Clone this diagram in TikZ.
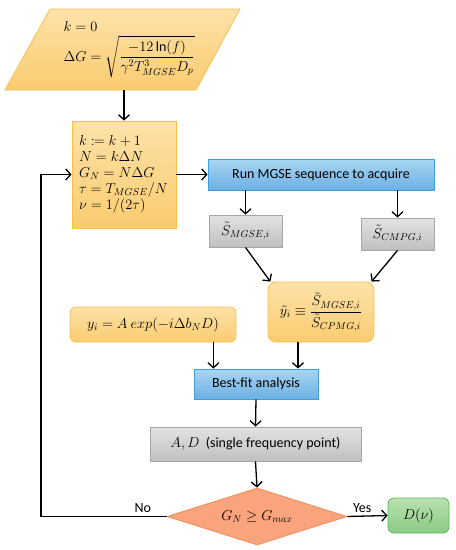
\documentclass[tikz,border=0pt]{standalone}
\usepackage{amsmath}
\usepackage{amssymb}
\usepackage{mathtools}
\usepackage{fontspec}
\setmainfont{Carlito}
\usetikzlibrary{shapes.geometric,arrows.meta}

\definecolor{ylwtop}{HTML}{FEE2A8}
\definecolor{ylwbot}{HTML}{F9CC70}
\definecolor{ylwline}{HTML}{F7C04E}
\definecolor{blutop}{HTML}{A9D5F3}
\definecolor{blubot}{HTML}{6CB0E2}
\definecolor{bluline}{HTML}{3E9FDC}
\definecolor{grytop}{HTML}{E2E2E2}
\definecolor{grybot}{HTML}{C0C0C0}
\definecolor{gryline}{HTML}{A6A6A6}
\definecolor{salfill}{HTML}{F9A47C}
\definecolor{salline}{HTML}{F48C5C}
\definecolor{grntop}{HTML}{B8E2B0}
\definecolor{grnbot}{HTML}{8ACB82}
\definecolor{grnline}{HTML}{5DB75A}

\tikzset{
  ybox/.style={draw=ylwline, line width=0.8pt, top color=ylwtop, bottom color=ylwbot},
  bbox/.style={draw=bluline, line width=0.8pt, top color=blutop, bottom color=blubot},
  gbox/.style={draw=gryline, line width=0.8pt, top color=grytop, bottom color=grybot},
  arr/.style={->, line width=1.3pt},
}

\begin{document}
\begin{tikzpicture}[x=1pt, y=-1pt, >={Straight Barb[length=5pt,width=11pt]},
    every node/.style={font=\fontsize{14}{16}\selectfont}]
  \useasboundingbox (0,0) rectangle (456,550);
  % start block
  \draw[ybox] (50,9) -- (240,9) -- (196,90) -- (5,90) -- cycle;
  \node[anchor=west, align=left] (init) at (60,50)
    {$k=0$\\[3pt] $\Delta G=\sqrt{\dfrac{-12\ln(f)}{\gamma^2T^3_{MGSE}D_p}}$};
  \coordinate (init-s) at (124,90);
  % update block
  \node[ybox, minimum width=104pt, minimum height=107pt, text width=90pt,
    inner xsep=7pt, align=left] (upd) at (124,174.5)
    {$k\coloneqq k+1$\\ $N=k\Delta N$\\ $G_N=N\Delta G$\\ $\tau=T_{MGSE}/N$\\ $\nu=1/(2\tau)$};
  \node[bbox, minimum width=226pt, minimum height=31pt] (run) at (321,174.5)
    {Run MGSE sequence to acquire};
  \node[gbox, minimum width=73pt, minimum height=32pt] (smgse) at (245.5,231)
    {$\tilde S_{MGSE,i}$};
  \node[gbox, minimum width=73pt, minimum height=32pt] (scpmg) at (397.5,234)
    {$\tilde S_{CMPG,i}$};
  \node[ybox, rounded corners=8pt, minimum width=106pt, minimum height=60pt] (yt) at (321,312)
    {$\tilde y_i\equiv\dfrac{\tilde S_{MGSE,i}}{\tilde S_{CPMG,i}}$};
  \node[ybox, rounded corners=6pt, minimum width=166pt, minimum height=35pt] (yi) at (153,324.5)
    {$y_i=A\ exp(-i\Delta b_ND)$};
  \node[bbox, minimum width=124pt, minimum height=30pt] (fit) at (256,384)
    {Best-fit analysis};
  \node[gbox, minimum width=211pt, minimum height=34pt] (ad) at (255.5,444)
    {$A,D$\ \ (single frequency point)};
  \node[diamond, draw=salline, fill=salfill, line width=0.8pt, aspect=3.2,
    minimum width=180pt, minimum height=57pt, inner sep=0pt] (dec) at (257,516.5)
    {$G_N\geq G_{max}$};
  \node[draw=grnline, line width=0.8pt, top color=grntop, bottom color=grnbot,
    rounded corners=6pt, minimum width=61pt, minimum height=35pt] (dnu) at (418.5,515.5)
    {$D(\nu)$};
  \coordinate (loop) at (41,300);

  \draw[arr] (init-s) -- (upd.north);
  \draw[arr] (upd.east) -- (run.west);
  \draw[arr] (smgse.north |- run.south) -- (smgse.north);
  \draw[arr] (scpmg.north |- run.south) -- (scpmg.north);
  \draw[arr] (smgse.south) -- (yt.149);
  \draw[arr] (scpmg.south) -- (yt.31);
  \draw[arr] ([xshift=-23pt]yi.south east) -- ([xshift=-23pt]yi.south east |- fit.north);
  \draw[arr] ([xshift=-23pt]yt.south) -- ([xshift=-23pt]yt.south |- fit.north);
  \draw[arr] (fit.south) -- (ad.north);
  \draw[arr] (ad.south) -- (dec.north);
  \draw[arr] (dec.east) -- node[above, pos=0.37] {Yes} (dnu.west);
  \draw[arr] (dec.west) -- node[above, pos=0.19] {No} (dec.west -| loop)
    -- (upd.west -| loop) -- (upd.west);
\end{tikzpicture}
\end{document}
